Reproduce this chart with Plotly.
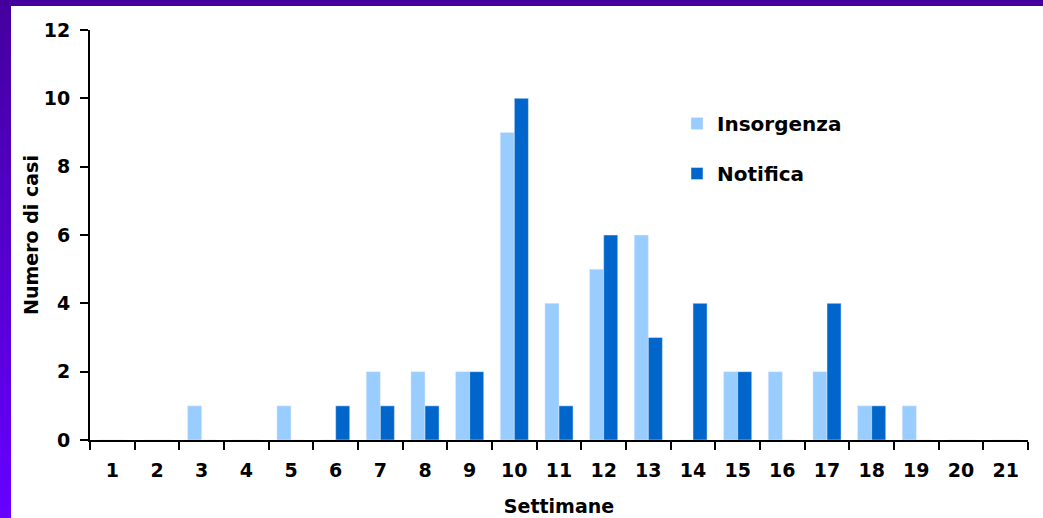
import plotly.graph_objects as go

# Weekly case counts
settimane = [str(i) for i in range(1, 22)]
insorgenza = [0, 0, 1, 0, 1, 0, 2, 2, 2, 9, 4, 5, 6, 0, 2, 2, 2, 1, 1, 0, 0]
notifica = [0, 0, 0, 0, 0, 1, 1, 1, 2, 10, 1, 6, 3, 4, 2, 0, 4, 1, 0, 0, 0]

FONT = "DejaVu Sans"
W, H = 1043, 518
L, R, T, B = 90, 15, 30, 78
pw, ph = W - L - R, H - T - B


def px_x(x):
    return (x - L) / pw


def px_y(y):
    return (H - B - y) / ph


fig = go.Figure()
fig.add_trace(go.Bar(x=settimane, y=insorgenza, name="Insorgenza",
                     marker_color="#99CCFF", legendgroup="a"))
fig.add_trace(go.Bar(x=settimane, y=notifica, name="Notifica",
                     marker_color="#0066CC", legendgroup="b"))

# purple frame: top band and a vertical gradient strip on the left
shapes = [dict(type="rect", xref="paper", yref="paper",
               x0=px_x(-5), x1=px_x(W + 5), y0=px_y(6), y1=px_y(-5),
               fillcolor="#44009F", line_width=0, layer="below")]
n = 40
c0 = (0x44, 0x00, 0xA0)
c1 = (0x66, 0x00, 0xFF)
step = (H - 6) / n
for i in range(n):
    t = i / (n - 1)
    col = "rgb(%d,%d,%d)" % tuple(round(a + (b - a) * t) for a, b in zip(c0, c1))
    top = 6 + step * i
    bottom = top + step + 2 if i < n - 1 else H + 10
    shapes.append(dict(type="rect", xref="paper", yref="paper",
                       x0=px_x(-5), x1=px_x(11),
                       y0=px_y(bottom), y1=px_y(top),
                       fillcolor=col, line_width=0, layer="below"))

fig.update_layout(
    width=W, height=H,
    margin=dict(l=L, r=R, t=T, b=B),
    paper_bgcolor="white", plot_bgcolor="white",
    barmode="group", bargap=0.37, bargroupgap=0,
    font=dict(family=FONT, color="black"),
    shapes=shapes,
    showlegend=True,
    legend=dict(x=px_x(677), y=px_y(104), xanchor="left", yanchor="top",
                bgcolor="rgba(0,0,0,0)", tracegroupgap=21,
                font=dict(family=FONT, size=20, color="black", weight="bold")),
    xaxis=dict(type="category", tickson="boundaries", ticks="outside",
               ticklen=8, tickwidth=2, tickcolor="black",
               showline=True, linecolor="black", linewidth=2,
               showgrid=False, ticklabelstandoff=12, automargin=False,
               tickfont=dict(family=FONT, size=19, color="black", weight="bold"),
               title=dict(text="Settimane", standoff=20,
                          font=dict(family=FONT, size=19, color="black", weight="bold"))),
    yaxis=dict(range=[0, 12], dtick=2, ticks="outside",
               ticklen=8, tickwidth=2, tickcolor="black",
               showline=True, linecolor="black", linewidth=2,
               showgrid=False, zeroline=False, ticklabelstandoff=6,
               automargin=False,
               tickfont=dict(family=FONT, size=19, color="black", weight="bold"),
               title=dict(text="Numero di casi", standoff=0,
                          font=dict(family=FONT, size=19, color="black", weight="bold"))),
)

fig.write_html("out.html")
